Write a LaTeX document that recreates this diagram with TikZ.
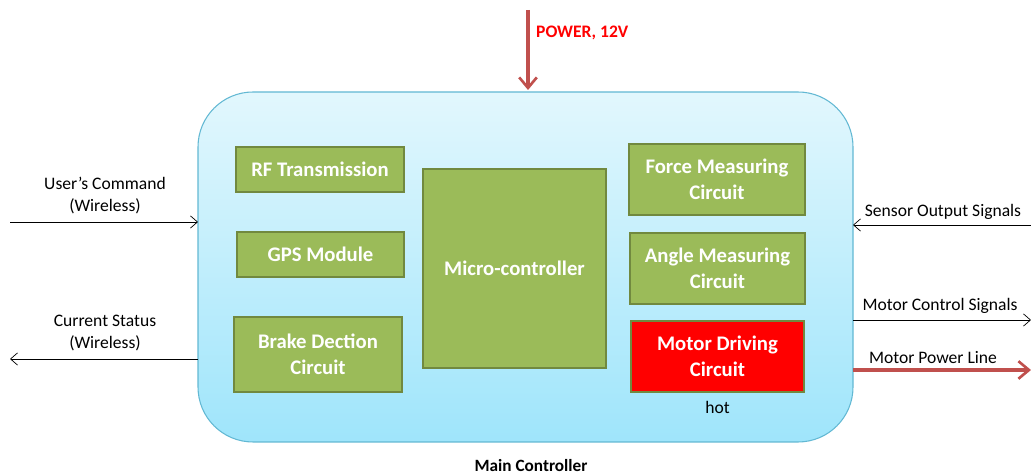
\documentclass[tikz,border=0pt]{standalone}
\usepackage{fontspec}
\setmainfont{Carlito}
\usetikzlibrary{arrows.meta, positioning}
\definecolor{olive}{HTML}{9BBB59}
\definecolor{olivedark}{HTML}{71893F}
\definecolor{pwrred}{HTML}{C0504D}
\definecolor{skytop}{HTML}{E2F7FD}
\definecolor{skybot}{HTML}{9FE5FB}
\definecolor{skyline}{HTML}{62B8D3}
\begin{document}
\begin{tikzpicture}[x=0.02cm, y=-0.02cm,
  blk/.style={draw=olivedark, fill=olive, line width=1.6pt, text=white, align=center,
    font=\fontsize{11.8}{14.5}\selectfont\bfseries, inner sep=0pt},
  lbl/.style={font=\fontsize{10}{12.5}\selectfont, align=center},
  sig/.style={-{Straight Barb[length=4pt, width=7pt]}, thin},
  pwr/.style={-{Straight Barb[length=6pt, width=10pt, line width=1.5pt]}, draw=pwrred, line width=1.8pt}]
\useasboundingbox (0,0) rectangle (1031,475);
% main box
\draw[draw=skyline, top color=skytop, bottom color=skybot, rounded corners=1.1cm, line width=0.6pt]
  (198,92) rectangle (853,442);
\node[font=\fontsize{9.8}{12}\selectfont\bfseries] (main) at (531,466) {Main Controller};
% left column
\node[blk, minimum width=3.36cm, minimum height=0.9cm] (rf) at (320,169.5) {RF Transmission};
\node[blk, minimum width=3.34cm, minimum height=0.9cm] (gps) at (320.5,254.5) {GPS Module};
\node[blk, minimum width=3.36cm, minimum height=1.5cm] (brake) at (318,354.5) {Brake Dection\\Circuit};
% centre
\node[blk, minimum width=3.66cm, minimum height=3.98cm] (mcu) at (514.5,268.5) {Micro-controller};
% right column
\node[blk, minimum width=3.52cm, minimum height=1.42cm] (force) at (717,179.5) {Force Measuring\\Circuit};
\node[blk, minimum width=3.5cm, minimum height=1.42cm] (angle) at (717.5,268.5) {Angle Measuring\\Circuit};
\node[blk, fill=red, minimum width=3.46cm, minimum height=1.42cm] (motor) at (717.5,356.5) {Motor Driving\\Circuit};
\node[lbl, below=1pt of motor] (hot) {hot};
% power in
\coordinate (pwrtop) at (528,10);
\coordinate (pwrbot) at (528,90);
\draw[pwr] (pwrtop) -- (pwrbot);
\node[font=\fontsize{10}{12}\selectfont\bfseries, text=red, anchor=west] (pwrlbl) at (530,33) {POWER, 12V};
% left signals
\coordinate (cmdin) at (10,222);
\coordinate (cmdend) at (198,222);
\draw[sig] (cmdin) -- (cmdend);
\node[lbl] (cmdlbl) at (105,196) {User's Command\\(Wireless)};
\coordinate (statstart) at (198,359);
\coordinate (statout) at (10,359);
\draw[sig] (statstart) -- (statout);
\node[lbl] (statlbl) at (105,333) {Current Status\\(Wireless)};
% right signals
\coordinate (sensin) at (1031,225);
\coordinate (sensend) at (853,225);
\draw[sig] (sensin) -- (sensend);
\node[lbl] (senslbl) at (943,212) {Sensor Output Signals};
\coordinate (ctlstart) at (853,320);
\coordinate (ctlout) at (1031,320);
\draw[sig] (ctlstart) -- (ctlout);
\node[lbl] (ctllbl) at (940,306) {Motor Control Signals};
\coordinate (mpstart) at (853,370);
\coordinate (mpout) at (1031,370);
\draw[pwr] (mpstart) -- (mpout);
\node[lbl] (mplbl) at (933,358) {Motor Power Line};
\end{tikzpicture}
\end{document}
